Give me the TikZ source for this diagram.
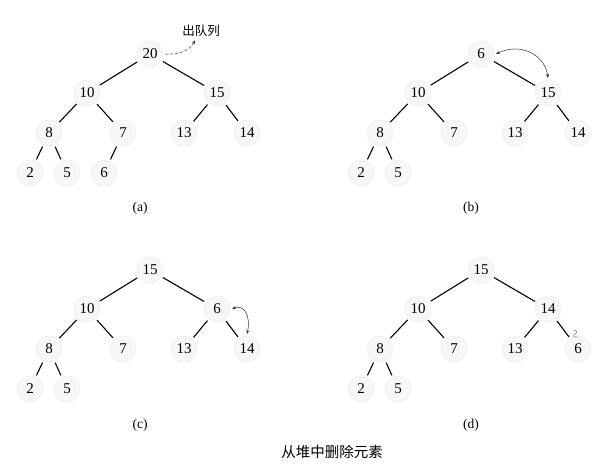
\documentclass[tikz,border=0pt]{standalone}
\usepackage{fontspec}
\setmainfont{Liberation Serif}
\newfontfamily\cjk{Noto Sans CJK SC}
\usetikzlibrary{arrows.meta}
\begin{document}
\begin{tikzpicture}[x=1pt,y=-1pt,
  hn/.style={circle,minimum size=26pt,inner sep=0pt,outer sep=2pt,fill=black!3,draw=black!6,line width=0.8pt,font=\fontsize{15}{15}\selectfont},
  edge/.style={line width=1.1pt,black},
  sub/.style={font=\fontsize{13.5}{13.5}\selectfont},
  swap/.style={line width=0.5pt,black!80,{Stealth[length=4pt,width=3pt]}-{Stealth[length=4pt,width=3pt]}},
  deq/.style={line width=0.5pt,black!80,densely dashed,-{Stealth[length=4pt,width=3pt]}}]
\useasboundingbox (0,0) rectangle (612,475);
% (a)
\begin{scope}
\node[hn] (a1) at (150,54) {20};
\node[hn] (a2) at (87,93) {10};
\node[hn] (a3) at (217,93) {15};
\node[hn] (a4) at (49,133) {8};
\node[hn] (a5) at (123,133) {7};
\node[hn] (a6) at (184,133) {13};
\node[hn] (a7) at (247,133) {14};
\node[hn] (a8) at (30,173) {2};
\node[hn] (a9) at (67,173) {5};
\node[hn] (a10) at (104,173) {6};
\draw[edge] (a1)--(a2) (a1)--(a3) (a2)--(a4) (a2)--(a5) (a3)--(a6) (a3)--(a7) (a4)--(a8) (a4)--(a9) (a5)--(a10);
\node[sub] (la) at (140,208) {(a)};
\node[font=\cjk\fontsize{12.5}{12.5}\selectfont] (dq) at (201,31) {出队列};
\coordinate (dqs) at (165,54);
\draw[deq] (dqs) .. controls (180,55) and (190,50) .. (dq.south -| 195,0);
\end{scope}
% (b)
\begin{scope}[xshift=331pt]
\node[hn] (b1) at (150,54) {6};
\node[hn] (b2) at (87,93) {10};
\node[hn] (b3) at (217,93) {15};
\node[hn] (b4) at (49,133) {8};
\node[hn] (b5) at (123,133) {7};
\node[hn] (b6) at (184,133) {13};
\node[hn] (b7) at (247,133) {14};
\node[hn] (b8) at (30,173) {2};
\node[hn] (b9) at (67,173) {5};
\draw[edge] (b1)--(b2) (b1)--(b3) (b2)--(b4) (b2)--(b5) (b3)--(b6) (b3)--(b7) (b4)--(b8) (b4)--(b9);
\node[sub] (lb) at (140,208) {(b)};
\draw[swap] (b1.east) .. controls (190,42) and (214,55) .. (b3.north);
\end{scope}
% (c)
\begin{scope}[yshift=-216pt]
\node[hn] (c1) at (150,54) {15};
\node[hn] (c2) at (87,93) {10};
\node[hn] (c3) at (217,93) {6};
\node[hn] (c4) at (49,133) {8};
\node[hn] (c5) at (123,133) {7};
\node[hn] (c6) at (184,133) {13};
\node[hn] (c7) at (247,133) {14};
\node[hn] (c8) at (30,173) {2};
\node[hn] (c9) at (67,173) {5};
\draw[edge] (c1)--(c2) (c1)--(c3) (c2)--(c4) (c2)--(c5) (c3)--(c6) (c3)--(c7) (c4)--(c8) (c4)--(c9);
\node[sub] (lc) at (140,209) {(c)};
\draw[swap] (c3.east) .. controls (244,88) and (251,100) .. (c7.north);
\end{scope}
% (d)
\begin{scope}[xshift=331pt,yshift=-216pt]
\node[hn] (d1) at (150,54) {15};
\node[hn] (d2) at (87,93) {10};
\node[hn] (d3) at (217,93) {14};
\node[hn] (d4) at (49,133) {8};
\node[hn] (d5) at (123,133) {7};
\node[hn] (d6) at (184,133) {13};
\node[hn] (d7) at (247,133) {6};
\node[hn] (d8) at (30,173) {2};
\node[hn] (d9) at (67,173) {5};
\draw[edge] (d1)--(d2) (d1)--(d3) (d2)--(d4) (d2)--(d5) (d3)--(d6) (d3)--(d7) (d4)--(d8) (d4)--(d9);
\node[sub] (ld) at (140,209) {(d)};
\draw[black!60,line width=0.4pt] (242,115) .. controls (246,113) and (247,117) .. (244,118) .. controls (241,119) and (243,122) .. (247,121);
\end{scope}
\node[font=\cjk\fontsize{14.5}{14.5}\selectfont] (cap) at (332,452) {从堆中删除元素};
\end{tikzpicture}
\end{document}
